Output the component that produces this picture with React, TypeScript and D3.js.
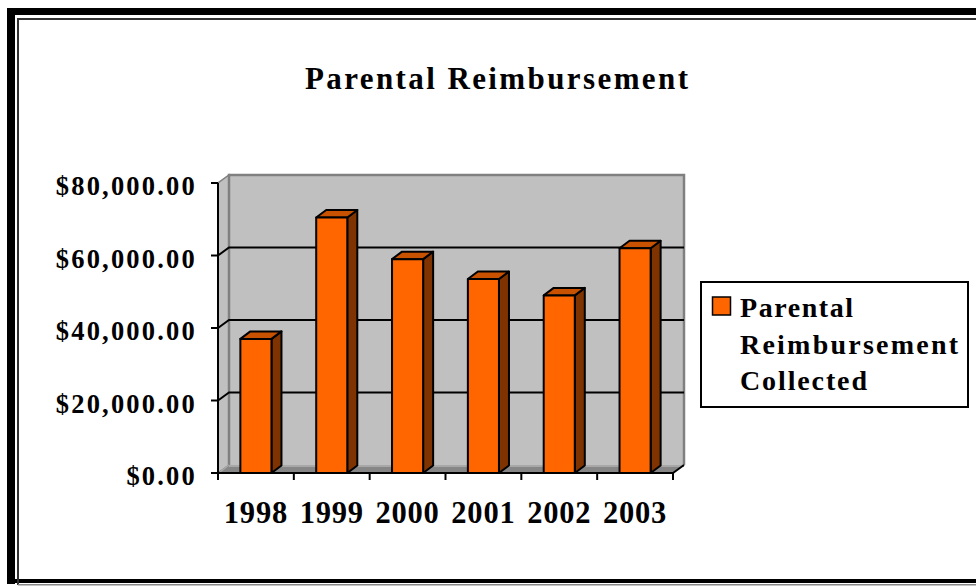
import React from "react";
import * as d3 from "d3";

const years = ["1998", "1999", "2000", "2001", "2002", "2003"];
const collected = [37000, 70500, 59000, 53500, 49000, 62000];
const yTicks = [0, 20000, 40000, 60000, 80000];
const legendLines = ["Parental", "Reimbursement", "Collected"];

const W = 976;
const H = 586;
const FONT = "'Liberation Serif', 'Times New Roman', serif";

// 3D offsets
const wallDx = 11;
const wallDy = -8;
const barDx = 10;
const barDy = -7.5;

const FRONT = "#ff6600";
const TOP = "#c85200";
const SIDE = "#7f3300";

const App = () => {
  const x = d3.scaleBand<string>().domain(years).range([218, 673]).padding(0);
  const y = d3.scaleLinear().domain([0, 80000]).range([473, 183]);
  const fmt = d3.format("$,.2f");
  const barW = x.bandwidth() * 0.41;

  const x0 = 218;
  const x1 = 673;
  const y0 = y(0);
  const yTop = y(80000);

  return (
    <svg
      width={W}
      height={H}
      style={{ position: "absolute", left: 0, top: 0, background: "#fff" }}
      fontFamily={FONT}
    >
      {/* frame */}
      <rect x={7} y={8} width={W - 7} height={7} fill="#000" />
      <rect x={7} y={8} width={8} height={576} fill="#000" />
      <rect x={7} y={579} width={W - 7} height={4} fill="#000" />
      <line x1={18} y1={19} x2={W} y2={19} stroke="#333" strokeWidth={2} />
      <line x1={18} y1={18} x2={18} y2={585} stroke="#333" strokeWidth={2} />
      <line x1={18} y1={584.8} x2={W} y2={584.8} stroke="#888" strokeWidth={1.5} />

      {/* title */}
      <text
        x={305}
        y={89}
        fontSize={31}
        fontWeight="bold"
        textLength={383}
        lengthAdjust="spacing"
      >
        Parental Reimbursement
      </text>

      {/* back wall */}
      <rect
        x={x0 + wallDx}
        y={yTop + wallDy}
        width={x1 - x0}
        height={y0 - yTop}
        fill="#c0c0c0"
      />
      {/* side wall */}
      <polygon
        points={`${x0},${y0} ${x0},${yTop} ${x0 + wallDx},${yTop + wallDy} ${x0 + wallDx},${y0 + wallDy}`}
        fill="#c0c0c0"
        stroke="#808080"
        strokeWidth={1.5}
      />
      {/* wall edges */}
      <polyline
        points={`${x0 + wallDx},${y0 + wallDy} ${x0 + wallDx},${yTop + wallDy} ${x1 + wallDx},${yTop + wallDy} ${x1 + wallDx},${y0 + wallDy}`}
        fill="none"
        stroke="#808080"
        strokeWidth={2.5}
      />

      {/* gridlines */}
      {yTicks
        .filter((t) => t > 0 && t < 80000)
        .map((t) => (
          <polyline
            key={t}
            points={`${x0},${y(t)} ${x0 + wallDx},${y(t) + wallDy} ${x1 + wallDx},${y(t) + wallDy}`}
            fill="none"
            stroke="#000"
            strokeWidth={2}
          />
        ))}

      {/* floor */}
      <polygon
        points={`${x0},${y0} ${x1},${y0} ${x1 + wallDx},${y0 + wallDy} ${x0 + wallDx},${y0 + wallDy}`}
        fill="#868686"
      />
      <line
        x1={x0 + wallDx}
        y1={y0 + wallDy + 1}
        x2={x1 + wallDx}
        y2={y0 + wallDy + 1}
        stroke="#a8a8a8"
        strokeWidth={2}
      />
      <line
        x1={x0 + 2}
        y1={y0 - 1}
        x2={x0 + wallDx}
        y2={y0 + wallDy}
        stroke="#a8a8a8"
        strokeWidth={1.5}
      />

      {/* bars */}
      {years.map((yr, i) => {
        const bx = (x(yr) as number) + (x.bandwidth() - barW) / 2;
        const by = y(collected[i]);
        const bx2 = bx + barW;
        return (
          <g key={yr} stroke="#000" strokeWidth={2} strokeLinejoin="round">
            <polygon
              points={`${bx2},${y0} ${bx2},${by} ${bx2 + barDx},${by + barDy} ${bx2 + barDx},${y0 + barDy}`}
              fill={SIDE}
            />
            <polygon
              points={`${bx},${by} ${bx2},${by} ${bx2 + barDx},${by + barDy} ${bx + barDx},${by + barDy}`}
              fill={TOP}
            />
            <rect x={bx} y={by} width={barW} height={y0 - by} fill={FRONT} />
          </g>
        );
      })}

      {/* axes */}
      <line x1={x0} y1={yTop} x2={x0} y2={y0} stroke="#000" strokeWidth={2} />
      <line x1={x0 - 7} y1={y0} x2={x1} y2={y0} stroke="#000" strokeWidth={2} />
      <line
        x1={x1}
        y1={y0}
        x2={x1 + wallDx}
        y2={y0 + wallDy}
        stroke="#000"
        strokeWidth={2}
      />
      {yTicks.map((t) => (
        <g key={t}>
          <line x1={x0 - 7} y1={y(t)} x2={x0} y2={y(t)} stroke="#000" strokeWidth={2} />
          <text
            x={197}
            y={y(t) + 12}
            textAnchor="end"
            fontSize={26.5}
            fontWeight="bold"
            letterSpacing={2.2}
          >
            {fmt(t)}
          </text>
        </g>
      ))}
      {[...years.map((yr) => x(yr) as number), x1].map((px, i) => (
        <line key={i} x1={px} y1={y0} x2={px} y2={y0 + 7} stroke="#000" strokeWidth={2} />
      ))}
      {years.map((yr) => (
        <text
          key={yr}
          x={(x(yr) as number) + x.bandwidth() / 2}
          y={523}
          textAnchor="middle"
          fontSize={30.5}
          fontWeight="bold"
          letterSpacing={0.8}
        >
          {yr}
        </text>
      ))}

      {/* legend */}
      <rect x={701} y={282} width={267} height={125} fill="#fff" stroke="#000" strokeWidth={2} />
      <rect x={712.5} y={297} width={18} height={18} fill={FRONT} stroke="#000" strokeWidth={1.5} />
      {legendLines.map((s, i) => (
        <text
          key={s}
          x={740}
          y={317 + i * 36.5}
          fontSize={28}
          fontWeight="bold"
          textLength={[113, 218, 127][i]}
          lengthAdjust="spacing"
        >
          {s}
        </text>
      ))}
    </svg>
  );
};

export default App;
